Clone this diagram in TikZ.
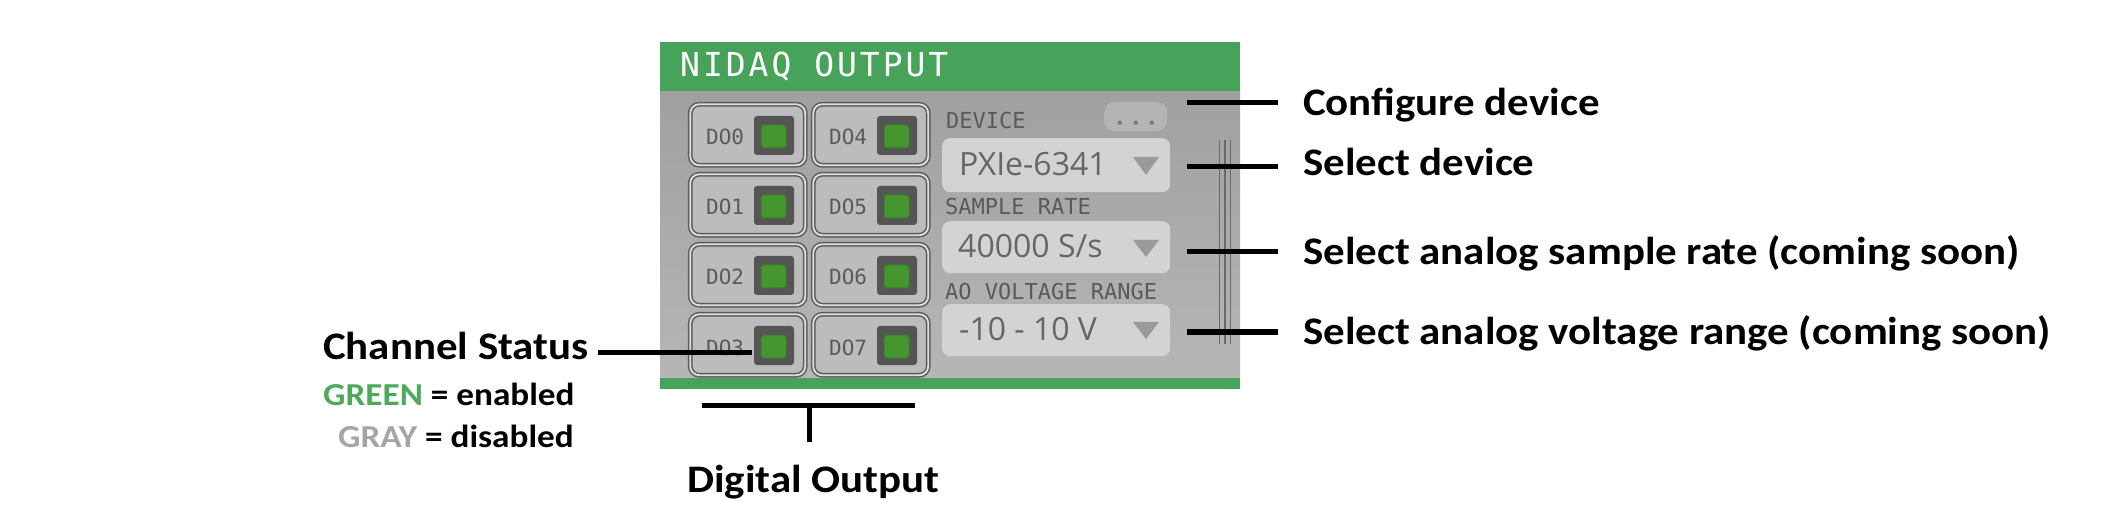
\documentclass[tikz,border=0pt]{standalone}
\usepackage{fontspec}
\setmainfont{Carlito}[FakeStretch=1.1]
\newfontfamily\uimono{DejaVu Sans Mono}
\newfontfamily\uititle{DejaVu Sans Mono}[LetterSpace=9]
\newfontfamily\uisans{Open Sans}
\definecolor{hdrgreen}{HTML}{48A35A}
\definecolor{bodytop}{HTML}{A0A0A0}
\definecolor{bodybot}{HTML}{B6B6B6}
\definecolor{btnfill}{HTML}{BCBCBC}
\definecolor{btndark}{HTML}{5C5C5C}
\definecolor{btnlight}{HTML}{DEDEDE}
\definecolor{inddark}{HTML}{555555}
\definecolor{indgreen}{HTML}{45962F}
\definecolor{indedge}{HTML}{3A802B}
\definecolor{uitext}{HTML}{5A5A5A}
\definecolor{ddfill}{HTML}{D3D3D3}
\definecolor{ddtext}{HTML}{666666}
\definecolor{trifill}{HTML}{9A9A9A}
\definecolor{cfgfill}{HTML}{B4B4B4}
\definecolor{dotc}{HTML}{7A7A7A}
\definecolor{gripc}{HTML}{6A6A6A}
\definecolor{legendgreen}{HTML}{4CAA5A}
\definecolor{legendgray}{HTML}{A5A5A5}
\tikzset{
  conn/.style={line width=5pt, black},
  lbl/.style={font=\fontsize{39}{44}\selectfont\bfseries, inner sep=0pt, anchor=base west},
  lblsm/.style={font=\fontsize{32}{36}\selectfont\bfseries, inner sep=0pt, anchor=base west},
  titletext/.style={font=\uititle\fontsize{33}{36}\selectfont, text=white, inner sep=0pt, anchor=base west},
  dobtn/.style={rectangle, rounded corners=9pt, minimum width=115pt, minimum height=61pt, inner sep=0pt,
     fill=btnfill, draw=btndark, line width=1.5pt, double=btnlight, double distance=1.8pt},
  dotxt/.style={font=\uimono\fontsize{21}{24}\selectfont, text=uitext, inner sep=0pt, anchor=base west},
  indout/.style={rectangle, rounded corners=3pt, minimum width=40pt, minimum height=39pt, inner sep=0pt, fill=inddark},
  indin/.style={rectangle, rounded corners=3pt, minimum width=25pt, minimum height=23pt, inner sep=0pt, fill=indgreen, draw=indedge, line width=1pt},
  uilbl/.style={font=\uimono\fontsize{22}{24}\selectfont, text=uitext, inner sep=0pt, anchor=base west},
  ddbox/.style={rectangle, rounded corners=8pt, minimum width=228pt, inner sep=0pt, fill=ddfill, anchor=north west},
  ddtxt/.style={font=\uisans\fontsize{32}{36}\selectfont, text=ddtext, inner sep=0pt, anchor=base west},
  tri/.style={fill=trifill},
  cfgbox/.style={rectangle, rounded corners=10pt, minimum width=63pt, minimum height=29pt, inner sep=0pt, fill=cfgfill, anchor=north west},
  grip/.style={draw=gripc, line width=1.6pt}
}
\begin{document}
\begin{tikzpicture}[x=1pt,y=-1pt]
\useasboundingbox (0,0) rectangle (2116,526);
\fill[white] (0,0) rectangle (2116,526);

% panel
\fill[hdrgreen] (660,42) rectangle (1240,92);
\shade[top color=bodytop, bottom color=bodybot] (660,92) rectangle (1240,378);
\fill[hdrgreen] (660,378) rectangle (1240,389);
\node[titletext] (title) at (680,77) {NIDAQ OUTPUT};

% digital output buttons
\foreach \i/\c/\r in {0/0/0,1/0/1,2/0/2,3/0/3,4/1/0,5/1/1,6/1/2,7/1/3} {
  \pgfmathsetmacro\bx{689.5+123*\c}
  \pgfmathsetmacro\by{103.5+70*\r}
  \node[dobtn, anchor=north west] (do\i) at (\bx,\by) {};
  \node[dotxt] (dolbl\i) at (\bx+16.5,\by+41.5) {DO\i};
  \node[indout] (ind\i) at (\bx+84.5,\by+32) {};
  \node[indin] (led\i) at (\bx+84,\by+33) {};
}

% device section
\node[uilbl] (devlbl) at (946,129) {DEVICE};
\node[cfgbox] (cfgbtn) at (1104,102) {};
\foreach \k in {-16,0,16} \fill[dotc] ([xshift=\k pt, yshift=-6pt]cfgbtn.center) circle (2.2pt);
\node[ddbox, minimum height=54pt] (dd1) at (942,138) {};
\node[ddtxt] (dd1t) at (959,176) {PXIe-6341};
\fill[tri] (1133,157) -- (1159,157) -- (1146,175) -- cycle;

\node[uilbl] (srlbl) at (945,215) {SAMPLE RATE};
\node[ddbox, minimum height=52pt] (dd2) at (942,221) {};
\node[ddtxt] (dd2t) at (958,258) {40000 S/s};
\fill[tri] (1133,240) -- (1159,240) -- (1146,257) -- cycle;

\node[uilbl] (aolbl) at (945,300) {AO VOLTAGE RANGE};
\node[ddbox, minimum height=52pt] (dd3) at (942,304) {};
\node[ddtxt] (dd3t) at (959,341) {-10 - 10 V};
\fill[tri] (1133,322) -- (1159,322) -- (1146,339) -- cycle;

% grip
\foreach \gx in {1219.5,1225,1230.5} \draw[grip] (\gx,140) -- (\gx,344);

% right annotations
\coordinate (a1) at (1187,103); \coordinate (b1) at (1278,103);
\coordinate (a2) at (1187,167); \coordinate (b2) at (1278,167);
\coordinate (a3) at (1187,252); \coordinate (b3) at (1278,252);
\coordinate (a4) at (1187,332); \coordinate (b4) at (1278,332);
\draw[conn] (a1) -- (b1);
\draw[conn] (a2) -- (b2);
\draw[conn] (a3) -- (b3);
\draw[conn] (a4) -- (b4);
\node[lbl] (t1) at (1303,115.5) {Configure device};
\node[lbl] (t2) at (1303,176) {Select device};
\node[lbl] (t3) at (1303,264.5) {Select analog sample rate (coming soon)};
\node[lbl] (t4) at (1303,344.5) {Select analog voltage range (coming soon)};

% left annotations
\node[lbl] (chs) at (323,359) {Channel Status};
\node[lblsm] (grn) at (323,405) {\textcolor{legendgreen}{GREEN} = enabled};
\node[lblsm] (gry) at (338,447) {\textcolor{legendgray}{GRAY} = disabled};
\coordinate (cs1) at (598,352); \coordinate (cs2) at (752,352);
\draw[conn] (cs1) -- (cs2);

% digital output bracket
\coordinate (brL) at (702,405); \coordinate (brR) at (915,405);
\coordinate (brM) at (809,405); \coordinate (brB) at (809,442);
\draw[conn] (brL) -- (brR);
\draw[conn] (brM) -- (brB);
\node[lbl] (dig) at (687,492) {Digital Output};
\end{tikzpicture}
\end{document}
